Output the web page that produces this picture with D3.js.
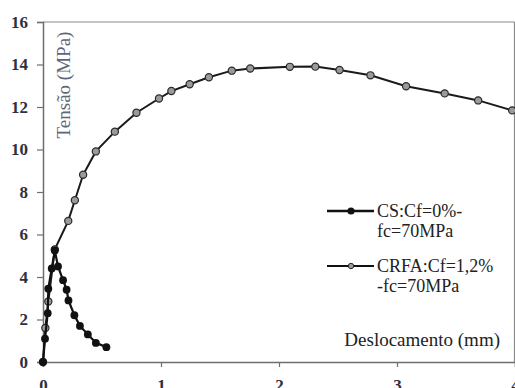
<!DOCTYPE html>
<html>
<head>
<meta charset="utf-8">
<script src="https://cdn.jsdelivr.net/npm/d3@7"></script>
<style>
  body { margin: 0; background: #fff; }
  svg text { font-family: "Liberation Serif", "DejaVu Serif", serif; }
</style>
</head>
<body>
<svg id="chart" width="515" height="388"></svg>
<script>
// CS: Cf=0% - fc=70MPa (deslocamento mm, tensão MPa)
const csX = [0, 0.017, 0.04, 0.045, 0.074, 0.10, 0.127, 0.17, 0.20, 0.216, 0.266, 0.313, 0.38, 0.448, 0.537];
const csY = [0, 1.1, 2.3, 3.45, 4.4, 5.25, 4.5, 3.85, 3.4, 2.9, 2.2, 1.7, 1.3, 0.9, 0.7];

// CRFA: Cf=1,2% - fc=70MPa
const crfaX = [0, 0.02, 0.045, 0.10, 0.214, 0.27, 0.34, 0.448, 0.609, 0.792, 0.983, 1.088, 1.243, 1.406, 1.60, 1.756, 2.092, 2.308, 2.513, 2.775, 3.077, 3.404, 3.688, 3.976];
const crfaY = [0, 1.6, 2.85, 5.3, 6.64, 7.61, 8.81, 9.91, 10.84, 11.73, 12.40, 12.75, 13.07, 13.40, 13.71, 13.81, 13.89, 13.90, 13.74, 13.49, 12.98, 12.64, 12.31, 11.84];

const xTicks = [0, 1, 2, 3, 4];
const yTicks = [0, 2, 4, 6, 8, 10, 12, 14, 16];

const legendLabels = [["CS:Cf=0%-", "fc=70MPa"], ["CRFA:Cf=1,2%", "-fc=70MPa"]];

const svg = d3.select("#chart");
const serif = "'Liberation Serif', 'Times New Roman', serif";

const x = d3.scaleLinear().domain([0, 4]).range([43, 515]);
const y = d3.scaleLinear().domain([0, 16]).range([362, 22]);

const axisColor = "#6e6e6e";
const labelColor = "#2e3040";

// frame top + right
svg.append("line")
    .attr("x1", x(0)).attr("x2", 514.5)
    .attr("y1", y(16)).attr("y2", y(16))
    .attr("stroke", "#8a8a8a").attr("stroke-width", 1.2);
svg.append("line")
    .attr("x1", 514.5).attr("x2", 514.5)
    .attr("y1", y(16)).attr("y2", y(0))
    .attr("stroke", "#8a8a8a").attr("stroke-width", 1.2);

const xAxis = svg.append("g")
    .attr("transform", `translate(0,${y(0)})`)
    .call(d3.axisBottom(x).tickValues(xTicks).tickFormat(d3.format("d")).tickSize(5).tickPadding(12));

const yAxis = svg.append("g")
    .attr("transform", `translate(${x(0)},0)`)
    .call(d3.axisLeft(y).tickValues(yTicks).tickSize(6).tickPadding(9));

[xAxis, yAxis].forEach(g => {
    g.attr("font-family", serif).attr("font-size", 17);
    g.select(".domain").attr("stroke", axisColor).attr("stroke-width", 1.5);
    g.selectAll(".tick line").attr("stroke", axisColor).attr("stroke-width", 1.2);
    g.selectAll(".tick text")
        .attr("fill", labelColor)
        .style("font-family", serif)
        .style("font-weight", "bold")
        .style("font-size", "17px");
});

// axis titles
svg.append("text")
    .attr("transform", "translate(70,85) rotate(-90)")
    .attr("text-anchor", "middle")
    .style("font-family", serif)
    .style("font-size", "19px")
    .attr("fill", "#5d6678")
    .text("Tensão (MPa)");

svg.append("text")
    .attr("x", 500)
    .attr("y", 346)
    .attr("text-anchor", "end")
    .style("font-family", serif)
    .style("font-size", "19px")
    .attr("fill", "#222")
    .text("Deslocamento (mm)");

// series
const line = d3.line().x(d => x(d[0])).y(d => y(d[1]));
const csData = csX.map((v, i) => [v, csY[i]]);
const crfaData = crfaX.map((v, i) => [v, crfaY[i]]);

svg.append("path")
    .datum(crfaData)
    .attr("d", line)
    .attr("fill", "none")
    .attr("stroke", "#1a1a1a")
    .attr("stroke-width", 2);

svg.selectAll(".crfa")
    .data(crfaData)
    .join("circle")
    .attr("class", "crfa")
    .attr("cx", d => x(d[0]))
    .attr("cy", d => y(d[1]))
    .attr("r", 3.6)
    .attr("fill", "#9a9a9a")
    .attr("stroke", "#2a2a2a")
    .attr("stroke-width", 1.2);

svg.append("path")
    .datum(csData)
    .attr("d", line)
    .attr("fill", "none")
    .attr("stroke", "#111")
    .attr("stroke-width", 2.2);

svg.selectAll(".cs")
    .data(csData)
    .join("circle")
    .attr("class", "cs")
    .attr("cx", d => x(d[0]))
    .attr("cy", d => y(d[1]))
    .attr("r", 3.9)
    .attr("fill", "#111");

// legend
const legend = svg.append("g");
const legendRows = [211, 266];
legendLabels.forEach((lab, i) => {
    const ly = legendRows[i];
    legend.append("line")
        .attr("x1", 327).attr("x2", 374)
        .attr("y1", ly).attr("y2", ly)
        .attr("stroke", "#111")
        .attr("stroke-width", i === 0 ? 2.4 : 2);
    legend.append("circle")
        .attr("cx", 351).attr("cy", ly)
        .attr("r", i === 0 ? 3.6 : 2.7)
        .attr("fill", i === 0 ? "#111" : "#9a9a9a")
        .attr("stroke", i === 0 ? "none" : "#2a2a2a");
    lab.forEach((t, j) => {
        legend.append("text")
            .attr("x", 377)
            .attr("y", ly + 6 + j * 20)
            .style("font-family", serif)
            .style("font-size", "18px")
            .attr("fill", "#222")
            .text(t);
    });
});
</script>
</body>
</html>
